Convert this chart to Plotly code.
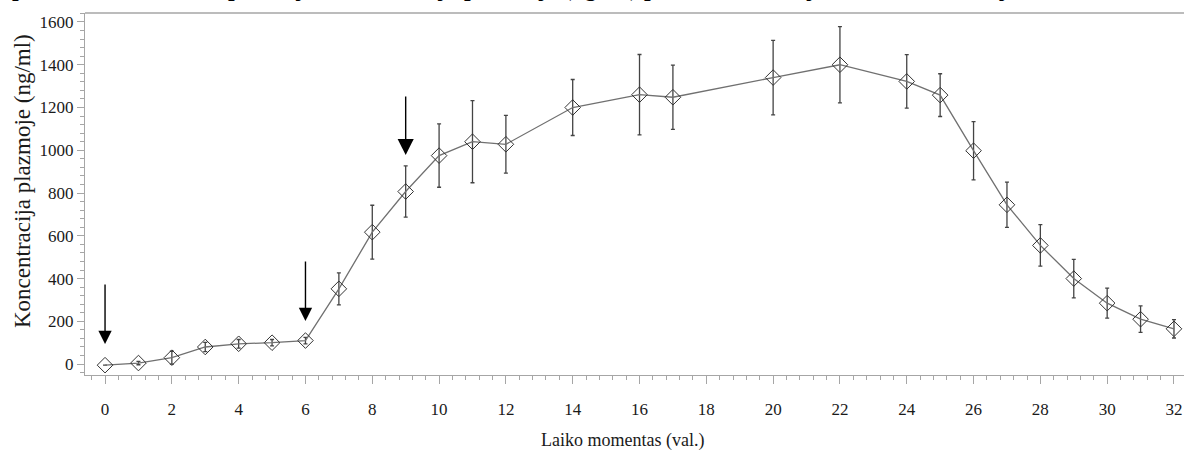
import plotly.graph_objects as go

# Data
time_h = [0, 1, 2, 3, 4, 5, 6, 7, 8, 9, 10, 11, 12, 14, 16, 17, 20, 22, 24, 25, 26, 27, 28, 29, 30, 31, 32]
conc_mean = [-5, 5, 30, 80, 95, 100, 110, 352, 617, 807, 975, 1040, 1028, 1200, 1260, 1248, 1340, 1400, 1322, 1258, 998, 745, 555, 400, 285, 210, 165]
conc_sd = [0, 8, 30, 22, 20, 15, 15, 75, 126, 120, 148, 192, 135, 131, 188, 150, 174, 178, 125, 100, 136, 106, 97, 90, 70, 62, 43]

dose_times = [0, 6, 9]
arrow_tip = [94, 201, 978]
arrow_tail = [379, 487, 1258]
arrow_head_size = [1.9, 1.9, 2.3]

x_ticks = list(range(0, 33, 2))
y_ticks = list(range(0, 1601, 200))

title_text = "pav.        Vidutinė suspaustoji koncentracija plazmoje (ng/ml) po 24 val. infuzijos kas 8 val. kartojant dozes"
x_title = "Laiko momentas (val.)"
y_title = "Koncentracija plazmoje (ng/ml)"

FONT = "Liberation Serif, Times New Roman, serif"
AXIS_GRAY = "#a6a6a6"
TXT = "#1a1a1a"

fig = go.Figure()
fig.add_trace(go.Scatter(
    x=time_h, y=conc_mean,
    mode="lines+markers",
    line=dict(color="#707070", width=1.3),
    marker=dict(symbol="diamond-open", size=12, color="#333333", line=dict(width=1)),
    error_y=dict(type="data", array=conc_sd, visible=True, color="#444444", thickness=1.3, width=2),
    showlegend=False,
))

for xv, tip, tail, hs in zip(dose_times, arrow_tip, arrow_tail, arrow_head_size):
    fig.add_annotation(
        x=xv, y=tip, ax=xv, ay=tail, xref="x", yref="y", axref="x", ayref="y",
        text="", showarrow=True, arrowhead=2, arrowsize=hs, arrowwidth=1.4, arrowcolor="#000000",
        standoff=0, startstandoff=0,
    )

# partially visible title at the very top (cropped in the reference)
fig.add_annotation(
    x=-75 / 1099, y=1, xref="paper", yref="paper", xanchor="left", yanchor="bottom",
    text="<b>" + title_text + "</b>", showarrow=False, yshift=10,
    font=dict(family=FONT, size=24, color="#000000"),
)
# axis titles
fig.add_annotation(
    x=(22 - 85) / 1099, y=(375 - 181) / 362, xref="paper", yref="paper",
    xanchor="center", yanchor="middle", textangle=-90, showarrow=False,
    text=y_title, font=dict(family=FONT, size=23, color=TXT),
)
fig.add_annotation(
    x=(622 - 85) / 1099, y=(375 - 440) / 362, xref="paper", yref="paper",
    xanchor="center", yanchor="middle", showarrow=False,
    text=x_title, font=dict(family=FONT, size=18, color=TXT),
)

fig.update_layout(
    width=1184, height=457,
    margin=dict(l=85, r=0, t=13, b=82),
    paper_bgcolor="white", plot_bgcolor="white",
    font=dict(family=FONT, size=17, color=TXT),
    xaxis=dict(
        range=[-0.6, 32.3], tickvals=x_ticks, ticks="outside", ticklen=8, tickwidth=1,
        tickcolor=AXIS_GRAY, showline=True, linecolor=AXIS_GRAY, linewidth=1.3, mirror=False,
        showgrid=False, zeroline=False, ticklabelstandoff=10, automargin=False,
        minor=dict(dtick=0.4, tick0=0, ticks="outside", ticklen=4, tickcolor=AXIS_GRAY),
        tickfont=dict(family=FONT, size=17, color=TXT),
    ),
    yaxis=dict(
        range=[-51, 1642], tickvals=y_ticks, ticks="outside", ticklen=7, tickwidth=1,
        tickcolor=AXIS_GRAY, showline=True, linecolor=AXIS_GRAY, linewidth=1.3,
        showgrid=False, zeroline=False, automargin=False,
        minor=dict(dtick=40, tick0=0, ticks="outside", ticklen=4, tickcolor=AXIS_GRAY),
        tickfont=dict(family=FONT, size=17, color=TXT),
    ),
)

fig.add_shape(type="line", xref="paper", yref="paper", x0=0, x1=1, y0=1, y1=1,
              line=dict(color=AXIS_GRAY, width=1.3))

fig.write_html(
    "out.html",
    config={"displayModeBar": False},
    post_script="document.body.style.margin='0';document.body.style.overflow='hidden';",
)
